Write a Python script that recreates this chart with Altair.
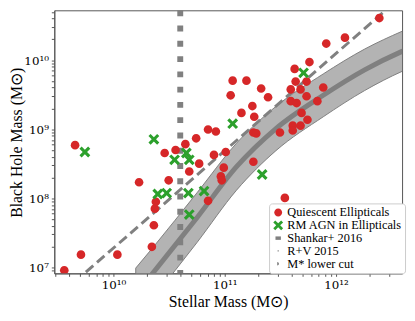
import altair as alt
import pandas as pd

# ---- data (log10 values) ----
red_logx = [9.558, 9.708, 10.035, 10.230, 9.655, 10.345, 10.363, 10.372, 10.381, 10.496,
            10.460, 10.681, 10.770, 10.558, 10.646, 10.743, 10.850, 10.920, 10.903, 11.009,
            10.991, 10.965, 10.973, 10.850, 11.257, 11.071, 11.195, 11.327, 11.053, 11.389,
            11.248, 11.150, 11.265, 11.257, 11.283, 12.389, 12.080, 11.912, 11.761, 11.628,
            11.637, 11.735, 11.593, 11.681, 11.885, 11.593, 11.646, 11.735, 11.832, 11.690,
            11.743, 11.611, 11.681, 11.611, 11.496, 11.540]
red_logy = [6.959, 7.185, 7.185, 8.232, 8.769, 7.298, 7.610, 7.850, 7.949, 8.260,
            8.656, 8.388, 8.501, 8.699, 8.784, 8.868, 8.996, 8.967, 8.628, 8.670,
            8.444, 8.317, 8.260, 7.963, 8.529, 9.703, 9.703, 9.590, 9.491, 9.463,
            9.335, 9.236, 9.180, 8.953, 8.939, 10.608, 10.325, 10.240, 9.972, 9.873,
            9.689, 9.689, 9.576, 9.576, 9.604, 9.406, 9.378, 9.477, 9.406, 9.236,
            9.137, 9.052, 9.052, 8.982, 8.953, 8.006]

green_logx = [9.743, 10.363, 11.071, 11.708, 10.549, 10.655, 10.681, 10.398, 10.478,
              10.673, 10.814, 10.681, 11.336]
green_logy = [8.670, 8.854, 9.081, 9.816, 8.557, 8.656, 8.557, 8.062, 8.076,
              8.076, 8.105, 7.765, 8.345]

shankar_logx = [9.752, 12.434]
shankar_logy = [6.931, 10.707]

rv_logx = [10.2, 10.354, 10.752, 11.106, 11.460, 11.885, 12.257, 12.593, 12.7]
rv_center = [6.61, 6.917, 7.723, 8.458, 9.010, 9.491, 9.859, 10.127, 10.20]
rv_upper = [6.99, 7.287, 8.083, 8.798, 9.33, 9.80, 10.16, 10.417, 10.49]
rv_lower = [6.23, 6.547, 7.363, 8.118, 8.69, 9.18, 9.56, 9.837, 9.91]

cut_logx = [10.6]

x_domain = [2.94e9, 3.92e12]
y_domain = [8.2e6, 5.26e10]

x_ticks = [3e9, 4e9, 5e9, 6e9, 7e9, 8e9, 9e9, 1e10, 2e10, 3e10, 4e10, 5e10, 6e10, 7e10,
           8e10, 9e10, 1e11, 2e11, 3e11, 4e11, 5e11, 6e11, 7e11, 8e11, 9e11, 1e12, 2e12, 3e12]
y_ticks = [9e6, 1e7, 2e7, 3e7, 4e7, 5e7, 6e7, 7e7, 8e7, 9e7, 1e8, 2e8, 3e8, 4e8, 5e8, 6e8,
           7e8, 8e8, 9e8, 1e9, 2e9, 3e9, 4e9, 5e9, 6e9, 7e9, 8e9, 9e9, 1e10, 2e10, 3e10, 4e10, 5e10]

legend_labels = ["Quiescent Ellipticals", "RM AGN in Ellipticals", "Shankar+ 2016",
                 "R+V 2015", "M* lower cut"]
legend_colors = ["#d62728", "#2ca02c", "#808080", "#808080", "#808080"]
legend_shapes = [
    "M0.8,0A0.8,0.8,0,1,1,-0.8,0A0.8,0.8,0,1,1,0.8,0Z",
    "M-1,-0.6L-0.6,-1L0,-0.4L0.6,-1L1,-0.6L0.4,0L1,0.6L0.6,1L0,0.4L-0.6,1L-1,0.6L-0.4,0Z",
    "M-0.55,-0.35L0.55,-0.35L0.55,0.35L-0.55,0.35Z",
    "M-0.12,-0.12L0.12,-0.12L0.12,0.12L-0.12,0.12Z",
    "M-0.2,-0.35A0.35,0.35,0,0,1,-0.2,0.35Z",
]

# ---- tables ----
pts = pd.DataFrame({
    "x": [10 ** v for v in red_logx + green_logx],
    "y": [10 ** v for v in red_logy + green_logy],
    "kind": [legend_labels[0]] * len(red_logx) + [legend_labels[1]] * len(green_logx),
})
shankar = pd.DataFrame({"x": [10 ** v for v in shankar_logx], "y": [10 ** v for v in shankar_logy]})
rv = pd.DataFrame({
    "x": [10 ** v for v in rv_logx],
    "c": [10 ** v for v in rv_center],
    "hi": [10 ** v for v in rv_upper],
    "lo": [10 ** v for v in rv_lower],
})
cut = pd.DataFrame({"x": [10 ** v for v in cut_logx]})

xs = alt.Scale(type="log", domain=x_domain, nice=False, zero=False)
ys = alt.Scale(type="log", domain=y_domain, nice=False, zero=False)

x_lab = "datum.value==1e10?'10¹⁰':datum.value==1e11?'10¹¹':datum.value==1e12?'10¹²':''"
y_lab = ("datum.value==1e7?'10⁷':datum.value==1e8?'10⁸':datum.value==1e9?'10⁹':"
         "datum.value==1e10?'10¹⁰':''")

x_axis = alt.Axis(values=x_ticks, labelExpr=x_lab, title="Stellar Mass (M⊙)",
                  labelOverlap=False, tickSize=3, titleY=29, titleBaseline="middle")
y_axis = alt.Axis(values=y_ticks, labelExpr=y_lab, title="Black Hole Mass (M⊙)",
                  labelOverlap=False, tickSize=3, titleX=-38, titleY=134,
                  titleBaseline="middle", titleAlign="center")

band = alt.Chart(rv).mark_area(color="#b3b3b3", stroke="#7f7f7f", strokeWidth=1,
                               interpolate="monotone", clip=True, opacity=1).encode(
    x=alt.X("x:Q", scale=xs, axis=x_axis),
    y=alt.Y("hi:Q", scale=ys, axis=y_axis),
    y2="lo:Q",
)
center = alt.Chart(rv).mark_line(color="#808080", strokeWidth=5, interpolate="monotone",
                                 clip=True).encode(
    x=alt.X("x:Q", scale=xs), y=alt.Y("c:Q", scale=ys))
sh = alt.Chart(shankar).mark_line(color="#808080", strokeWidth=3, strokeDash=[10, 5],
                                  clip=True).encode(
    x=alt.X("x:Q", scale=xs), y=alt.Y("y:Q", scale=ys))
vcut = alt.Chart(cut).mark_rule(color="#808080", strokeWidth=6, strokeDash=[6, 9.5]).encode(
    x=alt.X("x:Q", scale=xs))
points = alt.Chart(pts).mark_point(filled=True, size=121, opacity=1, strokeWidth=0,
                                   clip=True).encode(
    x=alt.X("x:Q", scale=xs),
    y=alt.Y("y:Q", scale=ys),
    color=alt.Color("kind:N", scale=alt.Scale(domain=legend_labels, range=legend_colors),
                    legend=alt.Legend(title=None, orient="none", legendX=218, legendY=196)),
    shape=alt.Shape("kind:N", scale=alt.Scale(domain=legend_labels, range=legend_shapes),
                    legend=alt.Legend(title=None, orient="none", legendX=218, legendY=196)),
)

chart = alt.layer(band, center, sh, vcut, points).properties(
    width=353, height=267,
    autosize=alt.AutoSizeParams(type="none"),
    padding={"left": 47, "top": 0, "right": 5, "bottom": 46},
).configure_view(stroke="#555", strokeWidth=1).configure_axis(
    labelFont="DejaVu Serif", labelFontSize=12, labelColor="black",
    titleFont="Liberation Serif", titleFontSize=16, titleFontWeight="normal", titleColor="black",
    domainColor="#555", tickColor="#555", grid=False, labelPadding=3,
).configure_legend(
    labelFont="Liberation Serif", labelFontSize=12.5, labelColor="black",
    symbolSize=100, symbolStrokeWidth=0, rowPadding=0, padding=3,
    strokeColor="#cccccc", fillColor="white", cornerRadius=3, labelOffset=3,
)

chart.save("out.html", embed_options={"renderer": "svg", "actions": False})
